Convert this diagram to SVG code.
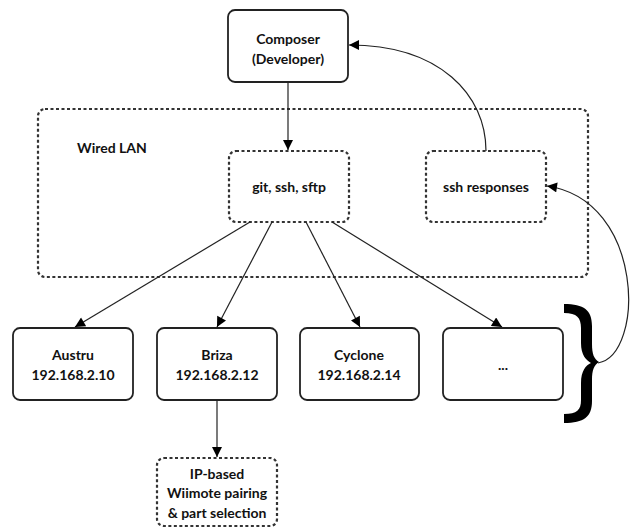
<svg xmlns="http://www.w3.org/2000/svg" width="641" height="529" viewBox="0 0 641 529">
<style>
.solid{fill:#fff;stroke:#222;stroke-width:1.8}
.dash{fill:#fff;stroke:#333;stroke-width:2.2;stroke-dasharray:3,2.5}
.t{font-family:Lato,"Liberation Sans",sans-serif;font-weight:bold;font-size:14px;fill:#111;text-anchor:middle}
.c{fill:none;stroke:#222;stroke-width:1.2}
</style>
<defs>
<marker id="ah" viewBox="0 0 10 10" refX="10" refY="5" markerWidth="11" markerHeight="10" markerUnits="userSpaceOnUse" orient="auto">
<path d="M0,0 L10,5 L0,10 Z" fill="#000"/>
</marker>
</defs>
<rect width="641" height="529" fill="#fff"/>
<g id="lan">
<rect x="38" y="109" width="550" height="168" rx="7" class="dash"/>
<text x="77" y="153" class="t" style="text-anchor:start">Wired LAN</text>
</g>
<g id="composer">
<rect x="228" y="10" width="120" height="72" rx="7" class="solid"/>
<text x="288" y="44" class="t">Composer</text>
<text x="288" y="64" class="t">(Developer)</text>
</g>
<g id="git">
<rect x="229" y="151" width="120" height="71" rx="7" class="dash"/>
<text x="289" y="192" class="t">git, ssh, sftp</text>
</g>
<g id="sshresp">
<rect x="426" y="151" width="120" height="71" rx="7" class="dash"/>
<text x="486" y="192" class="t">ssh responses</text>
</g>
<g id="austru">
<rect x="13" y="328" width="120" height="72" rx="7" class="solid"/>
<text x="73" y="360" class="t">Austru</text>
<text x="73" y="380" class="t">192.168.2.10</text>
</g>
<g id="briza">
<rect x="157" y="328" width="120" height="72" rx="7" class="solid"/>
<text x="217" y="360" class="t">Briza</text>
<text x="217" y="380" class="t">192.168.2.12</text>
</g>
<g id="cyclone">
<rect x="300" y="328" width="119" height="72" rx="7" class="solid"/>
<text x="359" y="360" class="t">Cyclone</text>
<text x="359" y="380" class="t">192.168.2.14</text>
</g>
<g id="more">
<rect x="443" y="328" width="120" height="72" rx="7" class="solid"/>
<text x="503" y="370" class="t">...</text>
</g>
<g id="ipbased">
<rect x="157" y="458" width="120" height="68" rx="7" class="dash"/>
<text x="217" y="479" class="t">IP-based</text>
<text x="217" y="498" class="t">Wiimote pairing</text>
<text x="217" y="518" class="t">&amp; part selection</text>
</g>
<g id="brace">
<path d="M564,304 C584,304 592,310 592,326 L592,344 C592,354 594,359 599,362 C594,365 592,370 592,380 L592,401 C592,417 584,423 564,423 L564,414 C577,414 581,410 581,400 L581,383 C581,371 586,365 591,363 C586,360 581,355 581,343 L581,328 C581,318 577,313 564,313 Z" fill="#000"/>
</g>
<g id="connectors">
<line x1="288" y1="82" x2="288" y2="150" class="c" marker-end="url(#ah)"/>
<path d="M486,151 C486,95 440,45 349,45" class="c" marker-end="url(#ah)"/>
<path d="M598,363 C645,355 645,200 547,186" class="c" marker-end="url(#ah)"/>
<line x1="250" y1="222" x2="75" y2="327" class="c" marker-end="url(#ah)"/>
<line x1="272" y1="222" x2="217" y2="327" class="c" marker-end="url(#ah)"/>
<line x1="306" y1="222" x2="360" y2="327" class="c" marker-end="url(#ah)"/>
<line x1="332" y1="222" x2="502" y2="327" class="c" marker-end="url(#ah)"/>
<line x1="217" y1="400" x2="217" y2="457" class="c" marker-end="url(#ah)"/>
</g>
</svg>
